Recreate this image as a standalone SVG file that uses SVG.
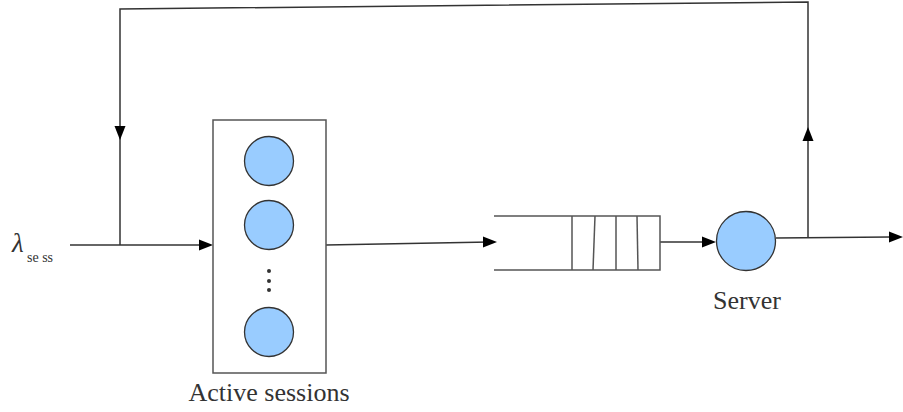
<svg xmlns="http://www.w3.org/2000/svg" width="903" height="412" viewBox="0 0 903 412">
<style>
.ln{stroke:#333;stroke-width:1.5;fill:none}
.bx{stroke:#555;stroke-width:1.5;fill:#fff}
.cir{fill:#99ccff;stroke:#333;stroke-width:1.3}
.ah{fill:#000}
.lbl{font-family:"Liberation Serif",serif;font-size:26px;fill:#333}
</style>
<g id="connectors">
<polyline class="ln" points="808,238 808,2 120,9 120,245"/>
<line class="ln" x1="70" y1="245" x2="206" y2="245"/>
<line class="ln" x1="326" y1="245" x2="490" y2="242"/>
<line class="ln" x1="660" y1="242" x2="708" y2="242"/>
<line class="ln" x1="776" y1="238" x2="890" y2="237"/>
<polygon class="ah" points="213,245 199,239.5 199,250.5"/>
<polygon class="ah" points="497,242 483,236.5 483,247.5"/>
<polygon class="ah" points="716,242 702,236.5 702,247.5"/>
<polygon class="ah" points="903,237 889,231.5 889,242.5"/>
<polygon class="ah" points="120,140 114.5,126 125.5,126"/>
<polygon class="ah" points="808,127 802.5,141 813.5,141"/>
</g>
<g id="source">
<text x="12" y="252" font-family="Liberation Serif,serif" font-style="italic" font-size="27" fill="#333">λ</text>
<text x="27" y="262" font-family="Liberation Serif,serif" font-size="14" fill="#333">se ss</text>
</g>
<g id="active-sessions">
<rect class="bx" x="213" y="120" width="113" height="253"/>
<circle class="cir" cx="269" cy="161" r="24.5"/>
<circle class="cir" cx="269" cy="225" r="24.5"/>
<circle cx="269" cy="271" r="2" fill="#333"/>
<circle cx="269" cy="281" r="2" fill="#333"/>
<circle cx="269" cy="290" r="2" fill="#333"/>
<circle class="cir" cx="269" cy="332" r="24.5"/>
<text class="lbl" x="269" y="401" text-anchor="middle">Active sessions</text>
</g>
<g id="queue">
<polyline class="bx" style="fill:none" points="494,216 660,216 660,270 494,270"/>
<line class="bx" x1="572" y1="216" x2="572" y2="270"/>
<line class="bx" x1="595" y1="216" x2="593" y2="270"/>
<line class="bx" x1="616" y1="216" x2="616" y2="270"/>
<line class="bx" x1="637" y1="216" x2="638" y2="270"/>
</g>
<g id="server">
<circle class="cir" cx="746" cy="241" r="29.5"/>
<text class="lbl" x="747" y="309" text-anchor="middle">Server</text>
</g>
</svg>
